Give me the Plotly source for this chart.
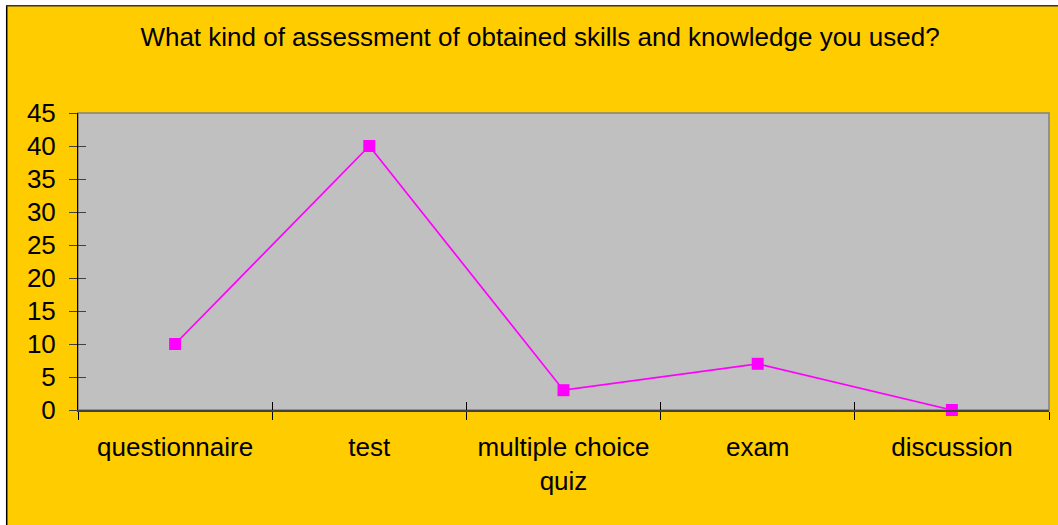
import plotly.graph_objects as go

# Survey answers
categories = ["questionnaire", "test", "multiple choice<br>quiz", "exam", "discussion"]
answers = [10, 40, 3, 7, 0]
y_ticks = [0, 5, 10, 15, 20, 25, 30, 35, 40, 45]

W, H = 1058, 525
L, R, T, B = 78, 9, 113, 115
pw, ph = W - L - R, H - T - B


def px_x(p):
    return (p - L) / pw


def px_y(p):
    return (H - B - p) / ph


font = "Liberation Sans, Arial, sans-serif"

fig = go.Figure()
fig.add_trace(go.Scatter(
    x=categories, y=answers, mode="lines+markers",
    line=dict(color="#FF00FF", width=1.7),
    marker=dict(symbol="square", size=12, color="#FF00FF"),
    cliponaxis=False, showlegend=False))

# second pair of axes only for the inner half of the crossing ticks
fig.add_trace(go.Scatter(x=[-0.5, 4.5], y=[0, 45], xaxis="x2", yaxis="y2",
                         mode="markers", marker=dict(opacity=0),
                         hoverinfo="skip", showlegend=False))

fig.update_layout(
    width=W, height=H,
    margin=dict(l=L, r=R, t=T, b=B),
    paper_bgcolor="#FFCC00",
    plot_bgcolor="#C0C0C0",
    title=dict(text="What kind of assessment of obtained skills and knowledge you used?",
               x=540 / W, xanchor="center", xref="container",
               y=1 - 37 / H, yanchor="middle",
               font=dict(family=font, size=26, color="black")),
    xaxis=dict(type="category", range=[-0.5, 4.5], showgrid=False,
               tickson="boundaries", ticks="outside", ticklen=8, tickcolor="black",
               showline=True, linecolor="#404040", linewidth=1.5,
               tickfont=dict(family=font, size=26, color="black"),
               ticklabelstandoff=13),
    yaxis=dict(range=[0, 45], tickvals=y_ticks, showgrid=False, zeroline=False,
               ticks="outside", ticklen=8, tickcolor="#404040",
               showline=True, linecolor="black", linewidth=1,
               tickfont=dict(family=font, size=26, color="black"),
               ticklabelstandoff=8),
    xaxis2=dict(overlaying="x", range=[-0.5, 4.5], tick0=-0.5, dtick=1,
                ticks="inside", ticklen=8, tickcolor="black",
                showticklabels=False, showgrid=False, zeroline=False,
                showline=False, side="bottom"),
    yaxis2=dict(overlaying="y", range=[0, 45], tickvals=y_ticks,
                ticks="inside", ticklen=8, tickcolor="#404040",
                showticklabels=False, showgrid=False, zeroline=False,
                showline=False, side="left"),
    shapes=[
        # plot area border
        dict(type="rect", xref="paper", yref="paper", x0=0, x1=1, y0=0, y1=1,
             line=dict(color="#808080", width=1.5), layer="below"),
        # white strips at left and top of the picture
        dict(type="rect", xref="paper", yref="paper",
             x0=px_x(-2), x1=px_x(6), y0=px_y(H + 2), y1=px_y(-2),
             fillcolor="white", line=dict(width=0)),
        dict(type="rect", xref="paper", yref="paper",
             x0=px_x(-2), x1=px_x(W + 2), y0=px_y(5), y1=px_y(-2),
             fillcolor="white", line=dict(width=0)),
        # chart frame lines
        dict(type="line", xref="paper", yref="paper",
             x0=px_x(6.7), x1=px_x(6.7), y0=px_y(H + 2), y1=px_y(5.5),
             line=dict(color="black", width=1.5)),
        dict(type="line", xref="paper", yref="paper",
             x0=px_x(6), x1=px_x(W + 2), y0=px_y(5.8), y1=px_y(5.8),
             line=dict(color="#333333", width=1.5)),
    ],
)

fig.write_html("out.html", config={"displayModeBar": False},
               post_script="document.body.style.margin = '0';")
